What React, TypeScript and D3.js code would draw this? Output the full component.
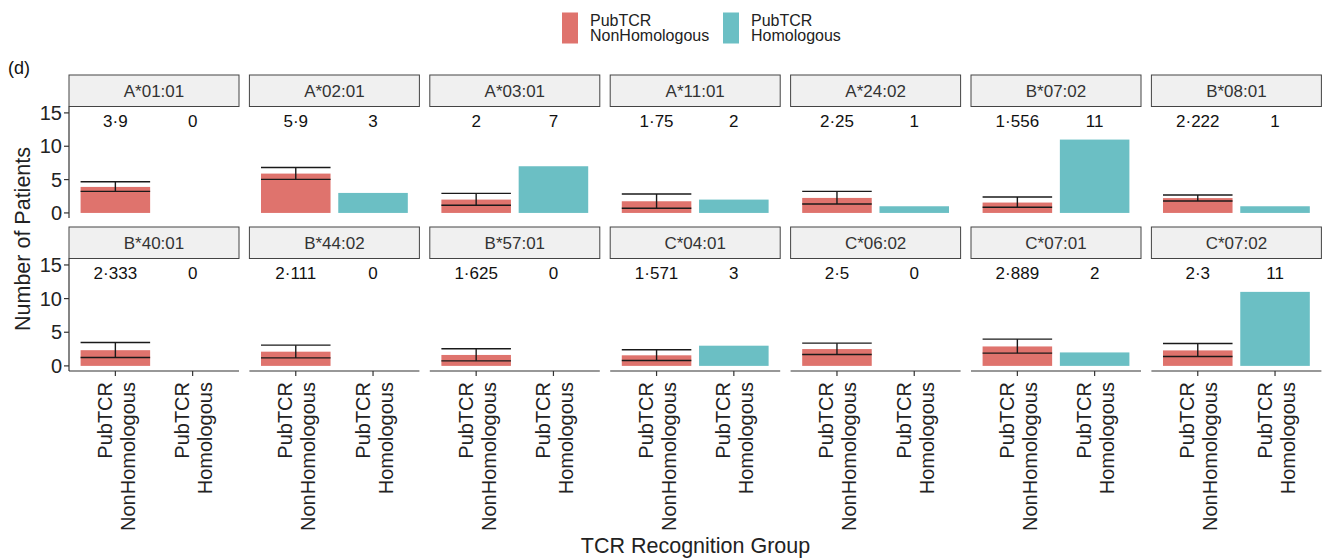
import * as d3 from 'd3';

// Alleles (facet panels), in reading order
const alleles = [
  'A*01:01', 'A*02:01', 'A*03:01', 'A*11:01', 'A*24:02', 'B*07:02', 'B*08:01',
  'B*40:01', 'B*44:02', 'B*57:01', 'C*04:01', 'C*06:02', 'C*07:01', 'C*07:02',
];
const groups = ['PubTCR NonHomologous', 'PubTCR Homologous'];

// PubTCR NonHomologous: mean number of patients with error bar limits
const nonHomMean = [3.9, 5.9, 2, 1.75, 2.25, 1.556, 2.222, 2.333, 2.111, 1.625, 1.571, 2.5, 2.889, 2.3];
const nonHomLower = [3.24, 5.03, 1.15, 0.7, 1.34, 0.85, 1.79, 1.24, 1.19, 0.75, 0.8, 1.69, 1.9, 1.39];
const nonHomUpper = [4.67, 6.82, 2.94, 2.84, 3.24, 2.39, 2.69, 3.48, 3.08, 2.54, 2.39, 3.38, 3.98, 3.33];
// PubTCR Homologous: count
const homCount = [0, 3, 7, 2, 1, 11, 1, 0, 0, 0, 3, 0, 2, 11];

const yTicks = [0, 5, 10, 15];

const RED = '#df736d';
const TEAL = '#6bbfc4';
const FONT = '"Liberation Sans", Arial, Helvetica, sans-serif';

const fmt = (v: number) => String(v).replace('.', '·');

export default function App() {
  const width = 1327;
  const height = 559;
  const ncol = 7;
  const panelX0 = 69;
  const pitch = 180.4;
  const panelW = 170;
  const stripH = 31.5;
  const stripTops = [75, 227];
  const panelBottoms = [218, 371];

  const x = d3.scaleBand<string>().domain(groups).range([0, panelW]).paddingInner(0.1).paddingOuter(0.15);

  const yFor = (row: number) =>
    d3.scaleLinear().domain([-0.76, 15.96]).range([panelBottoms[row], stripTops[row] + stripH]);

  return (
    <svg
      width={width}
      height={height}
      style={{ position: 'absolute', left: 0, top: 0, background: '#fff' }}
      fontFamily={FONT}
    >
      {/* legend */}
      <g>
        <rect x={562} y={12.5} width={16} height={31} fill={RED} />
        <text x={590} y={26} fontSize={16} fill="#222">
          <tspan x={590}>PubTCR</tspan>
          <tspan x={590} dy={15}>NonHomologous</tspan>
        </text>
        <rect x={723} y={12.5} width={16} height={31} fill={TEAL} />
        <text x={751} y={26} fontSize={16} fill="#222">
          <tspan x={751}>PubTCR</tspan>
          <tspan x={751} dy={15}>Homologous</tspan>
        </text>
      </g>

      <text x={8} y={74} fontSize={18} fill="#111">(d)</text>

      {alleles.map((allele, i) => {
        const row = Math.floor(i / ncol);
        const col = i % ncol;
        const px = panelX0 + col * pitch;
        const y = yFor(row);
        const stripTop = stripTops[row];
        const bottom = panelBottoms[row];
        const bw = x.bandwidth();
        const x0 = px + (x(groups[0]) as number);
        const x1 = px + (x(groups[1]) as number);
        const labelY = y(13.8);
        return (
          <g key={allele}>
            {/* strip */}
            <rect x={px} y={stripTop} width={panelW} height={stripH} fill="#f0f0f0" stroke="#444" strokeWidth={1} />
            <text x={px + panelW / 2} y={stripTop + stripH / 2} dy="0.36em" textAnchor="middle" fontSize={17} fill="#333">
              {allele}
            </text>

            {/* bars */}
            <rect x={x0} y={y(nonHomMean[i])} width={bw} height={y(0) - y(nonHomMean[i])} fill={RED} />
            {homCount[i] > 0 && (
              <rect x={x1} y={y(homCount[i])} width={bw} height={y(0) - y(homCount[i])} fill={TEAL} />
            )}

            {/* error bar */}
            <g stroke="#1a1a1a" strokeWidth={1.4} fill="none">
              <line x1={x0} x2={x0 + bw} y1={y(nonHomLower[i])} y2={y(nonHomLower[i])} />
              <line x1={x0} x2={x0 + bw} y1={y(nonHomUpper[i])} y2={y(nonHomUpper[i])} />
              <line x1={x0 + bw / 2} x2={x0 + bw / 2} y1={y(nonHomLower[i])} y2={y(nonHomUpper[i])} />
            </g>

            {/* value labels */}
            <text x={x0 + bw / 2} y={labelY} dy="0.36em" textAnchor="middle" fontSize={17} fill="#111">
              {fmt(nonHomMean[i])}
            </text>
            <text x={x1 + bw / 2} y={labelY} dy="0.36em" textAnchor="middle" fontSize={17} fill="#111">
              {fmt(homCount[i])}
            </text>

            {/* y axis on first column */}
            {col === 0 && (
              <g>
                <line x1={px} x2={px} y1={stripTop + stripH} y2={bottom} stroke="#333" strokeWidth={1.2} />
                {yTicks.map((t) => (
                  <g key={t}>
                    <line x1={px - 5} x2={px} y1={y(t)} y2={y(t)} stroke="#333" strokeWidth={1.2} />
                    <text x={px - 7} y={y(t)} dy="0.36em" textAnchor="end" fontSize={20} fill="#222">
                      {t}
                    </text>
                  </g>
                ))}
              </g>
            )}

            {/* x axis on bottom row */}
            {row === 1 && (
              <g>
                <line x1={px} x2={px + panelW} y1={bottom} y2={bottom} stroke="#333" strokeWidth={1.2} />
                {groups.map((g) => {
                  const cx = px + (x(g) as number) + bw / 2;
                  const [l1, l2] = g.split(' ');
                  return (
                    <g key={g}>
                      <line x1={cx} x2={cx} y1={bottom} y2={bottom + 5} stroke="#333" strokeWidth={1.2} />
                      <text transform={`translate(${cx},${bottom + 11}) rotate(-90)`} textAnchor="end" fontSize={20} fill="#222">
                        <tspan x={0} y={-3.5}>{l1}</tspan>
                        <tspan x={0} y={19.5}>{l2}</tspan>
                      </text>
                    </g>
                  );
                })}
              </g>
            )}
          </g>
        );
      })}

      {/* axis titles */}
      <text transform="translate(30,239) rotate(-90)" textAnchor="middle" fontSize={21.5} fill="#222">
        Number of Patients
      </text>
      <text x={695.5} y={553} textAnchor="middle" fontSize={21.5} fill="#222">
        TCR Recognition Group
      </text>
    </svg>
  );
}
